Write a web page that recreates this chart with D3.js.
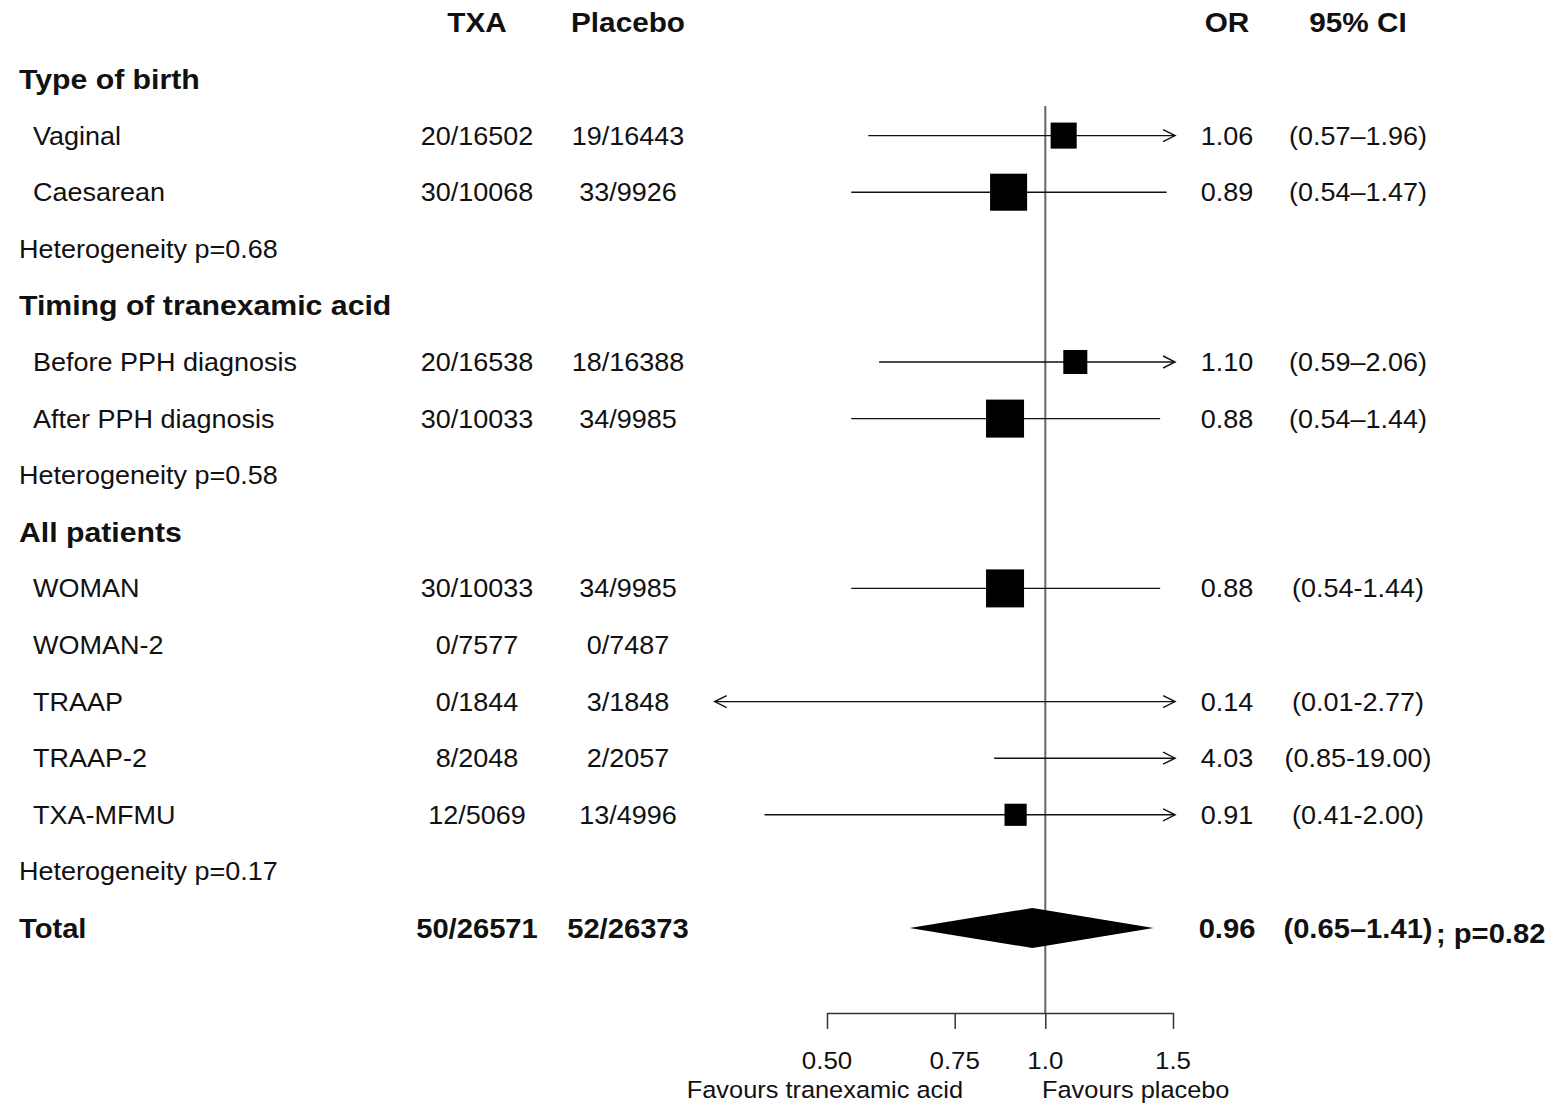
<!DOCTYPE html>
<html>
<head>
<meta charset="utf-8">
<script src="https://cdn.jsdelivr.net/npm/d3@7"></script>
<style>
  body { margin: 0; background: #fff; }
  text { font-family: "Liberation Sans", Arial, Helvetica, sans-serif; fill: #111; }
</style>
</head>
<body>
<div id="chart"></div>
<script>
// rows, top to bottom: kind = "group" | "study" | "het" | "total"
const rowLabels = ["Type of birth", "Vaginal", "Caesarean", "Heterogeneity p=0.68",
  "Timing of tranexamic acid", "Before PPH diagnosis", "After PPH diagnosis", "Heterogeneity p=0.58",
  "All patients", "WOMAN", "WOMAN-2", "TRAAP", "TRAAP-2", "TXA-MFMU", "Heterogeneity p=0.17", "Total"];
const rowKinds = ["group", "study", "study", "het",
  "group", "study", "study", "het",
  "group", "study", "study", "study", "study", "study", "het", "total"];
const txa = ["", "20/16502", "30/10068", "", "", "20/16538", "30/10033", "",
  "", "30/10033", "0/7577", "0/1844", "8/2048", "12/5069", "", "50/26571"];
const placebo = ["", "19/16443", "33/9926", "", "", "18/16388", "34/9985", "",
  "", "34/9985", "0/7487", "3/1848", "2/2057", "13/4996", "", "52/26373"];
const oddsRatio = [null, 1.06, 0.89, null, null, 1.10, 0.88, null,
  null, 0.88, null, 0.14, 4.03, 0.91, null, 0.96];
const ciLow = [null, 0.57, 0.54, null, null, 0.59, 0.54, null,
  null, 0.54, null, 0.01, 0.85, 0.41, null, 0.65];
const ciHigh = [null, 1.96, 1.47, null, null, 2.06, 1.44, null,
  null, 1.44, null, 2.77, 19.00, 2.00, null, 1.41];
const ciText = ["", "(0.57–1.96)", "(0.54–1.47)", "", "", "(0.59–2.06)", "(0.54–1.44)", "",
  "", "(0.54-1.44)", "", "(0.01-2.77)", "(0.85-19.00)", "(0.41-2.00)", "", "(0.65–1.41)"];
// relative weight (box area)
const weight = [0, 0.47, 0.95, 0, 0, 0.40, 1.0, 0, 0, 1.0, 0, 0, 0, 0.34, 0, 0];
const tickValues = [0.5, 0.75, 1.0, 1.5];
const tickLabels = ["0.50", "0.75", "1.0", "1.5"];
const totalP = "; p=0.82";

const width = 1553, height = 1104;
const sx = 1.08; // slight horizontal stretch of the type

const svg = d3.select("#chart").append("svg")
  .attr("width", width).attr("height", height);

const x = d3.scaleLog().domain([0.5, 1.5]).range([827, 1173]);
const clip = [0.35, 1.51];
const y = d3.scaleLinear().domain([-1, 15]).range([22.4, 928]);
const box = d3.scaleSqrt().domain([0, 1]).range([0, 38]);

function label(g, tx, ty, str, opts = {}) {
  const size = opts.size || 25;
  g.append("text")
    .attr("transform", `translate(${tx},${ty + size * 0.36}) scale(${sx},1)`)
    .attr("text-anchor", opts.anchor || "start")
    .attr("font-size", size)
    .attr("font-weight", opts.bold ? "bold" : "normal")
    .text(str);
}

const txt = svg.append("g");
// header
label(txt, 477, y(-1), "TXA", {anchor: "middle", bold: true, size: 27.5});
label(txt, 628, y(-1), "Placebo", {anchor: "middle", bold: true, size: 27.5});
label(txt, 1227, y(-1), "OR", {anchor: "middle", bold: true, size: 27.5});
label(txt, 1358, y(-1), "95% CI", {anchor: "middle", bold: true, size: 27.5});

rowLabels.forEach((lab, i) => {
  const k = rowKinds[i];
  const bold = k === "group" || k === "total";
  label(txt, k === "study" ? 33 : 19, y(i), lab, {bold, size: k === "group" ? 28 : bold ? 27 : 25});
  const b = k === "total";
  const s = b ? 27 : 25;
  if (txa[i]) label(txt, 477, y(i), txa[i], {anchor: "middle", bold: b, size: s});
  if (placebo[i]) label(txt, 628, y(i), placebo[i], {anchor: "middle", bold: b, size: s});
  if (oddsRatio[i] != null) label(txt, 1227, y(i), oddsRatio[i].toFixed(2), {anchor: "middle", bold: b, size: s});
  if (ciText[i]) label(txt, 1358, y(i), ciText[i], {anchor: "middle", bold: b, size: s});
});
label(txt, 1436, y(15) + 5, totalP, {bold: true, size: 27});

// reference line at 1
svg.append("line")
  .attr("x1", x(1)).attr("x2", x(1))
  .attr("y1", 106).attr("y2", 1013)
  .attr("stroke", "#666").attr("stroke-width", 2);

// confidence intervals
const marks = svg.append("g");
const studyIdx = d3.range(rowLabels.length).filter(i => rowKinds[i] === "study" && oddsRatio[i] != null);

studyIdx.forEach(i => {
  const lo = Math.max(ciLow[i], clip[0]);
  const hi = Math.min(ciHigh[i], clip[1]);
  const yy = y(i);
  const x0 = ciLow[i] < clip[0] ? x(clip[0]) : x(lo);
  const x1 = ciHigh[i] > clip[1] ? x(clip[1]) : x(hi);
  marks.append("line")
    .attr("x1", x0).attr("x2", x1).attr("y1", yy).attr("y2", yy)
    .attr("stroke", "#111").attr("stroke-width", 1.4);
  if (ciHigh[i] > clip[1]) {
    marks.append("path")
      .attr("d", `M${x1 - 12},${yy - 6}L${x1},${yy}L${x1 - 12},${yy + 6}`)
      .attr("fill", "none").attr("stroke", "#111").attr("stroke-width", 1.4);
  }
  if (ciLow[i] < clip[0]) {
    marks.append("path")
      .attr("d", `M${x0 + 12},${yy - 6}L${x0},${yy}L${x0 + 12},${yy + 6}`)
      .attr("fill", "none").attr("stroke", "#111").attr("stroke-width", 1.4);
  }
  const or = oddsRatio[i];
  if (or >= clip[0] && or <= clip[1] && weight[i] > 0) {
    const s = box(weight[i]);
    marks.append("rect")
      .attr("x", x(or) - s / 2).attr("y", yy - s / 2)
      .attr("width", s).attr("height", s)
      .attr("fill", "#000");
  }
});

// total diamond
const ti = rowKinds.indexOf("total");
const ty = y(ti);
marks.append("path")
  .attr("d", `M${x(ciLow[ti])},${ty}L${x(oddsRatio[ti])},${ty - 20}L${x(ciHigh[ti])},${ty}L${x(oddsRatio[ti])},${ty + 20}Z`)
  .attr("fill", "#000");

// axis
const axis = svg.append("g")
  .attr("transform", "translate(0,1013)")
  .call(d3.axisBottom(x)
    .tickValues(tickValues)
    .tickFormat((d, i) => tickLabels[i])
    .tickSize(16)
    .tickSizeOuter(0));
axis.select(".domain").attr("stroke", "#333").attr("stroke-width", 1.5);
axis.selectAll(".tick line").attr("stroke", "#333").attr("stroke-width", 1.5);
axis.selectAll(".tick text").remove();
tickValues.forEach((v, i) => label(svg, x(v), 1060, tickLabels[i], {anchor: "middle", size: 24}));

label(svg, 963, 1090, "Favours tranexamic acid", {anchor: "end", size: 23.5});
label(svg, 1042, 1090, "Favours placebo", {size: 23.5});
</script>
</body>
</html>
